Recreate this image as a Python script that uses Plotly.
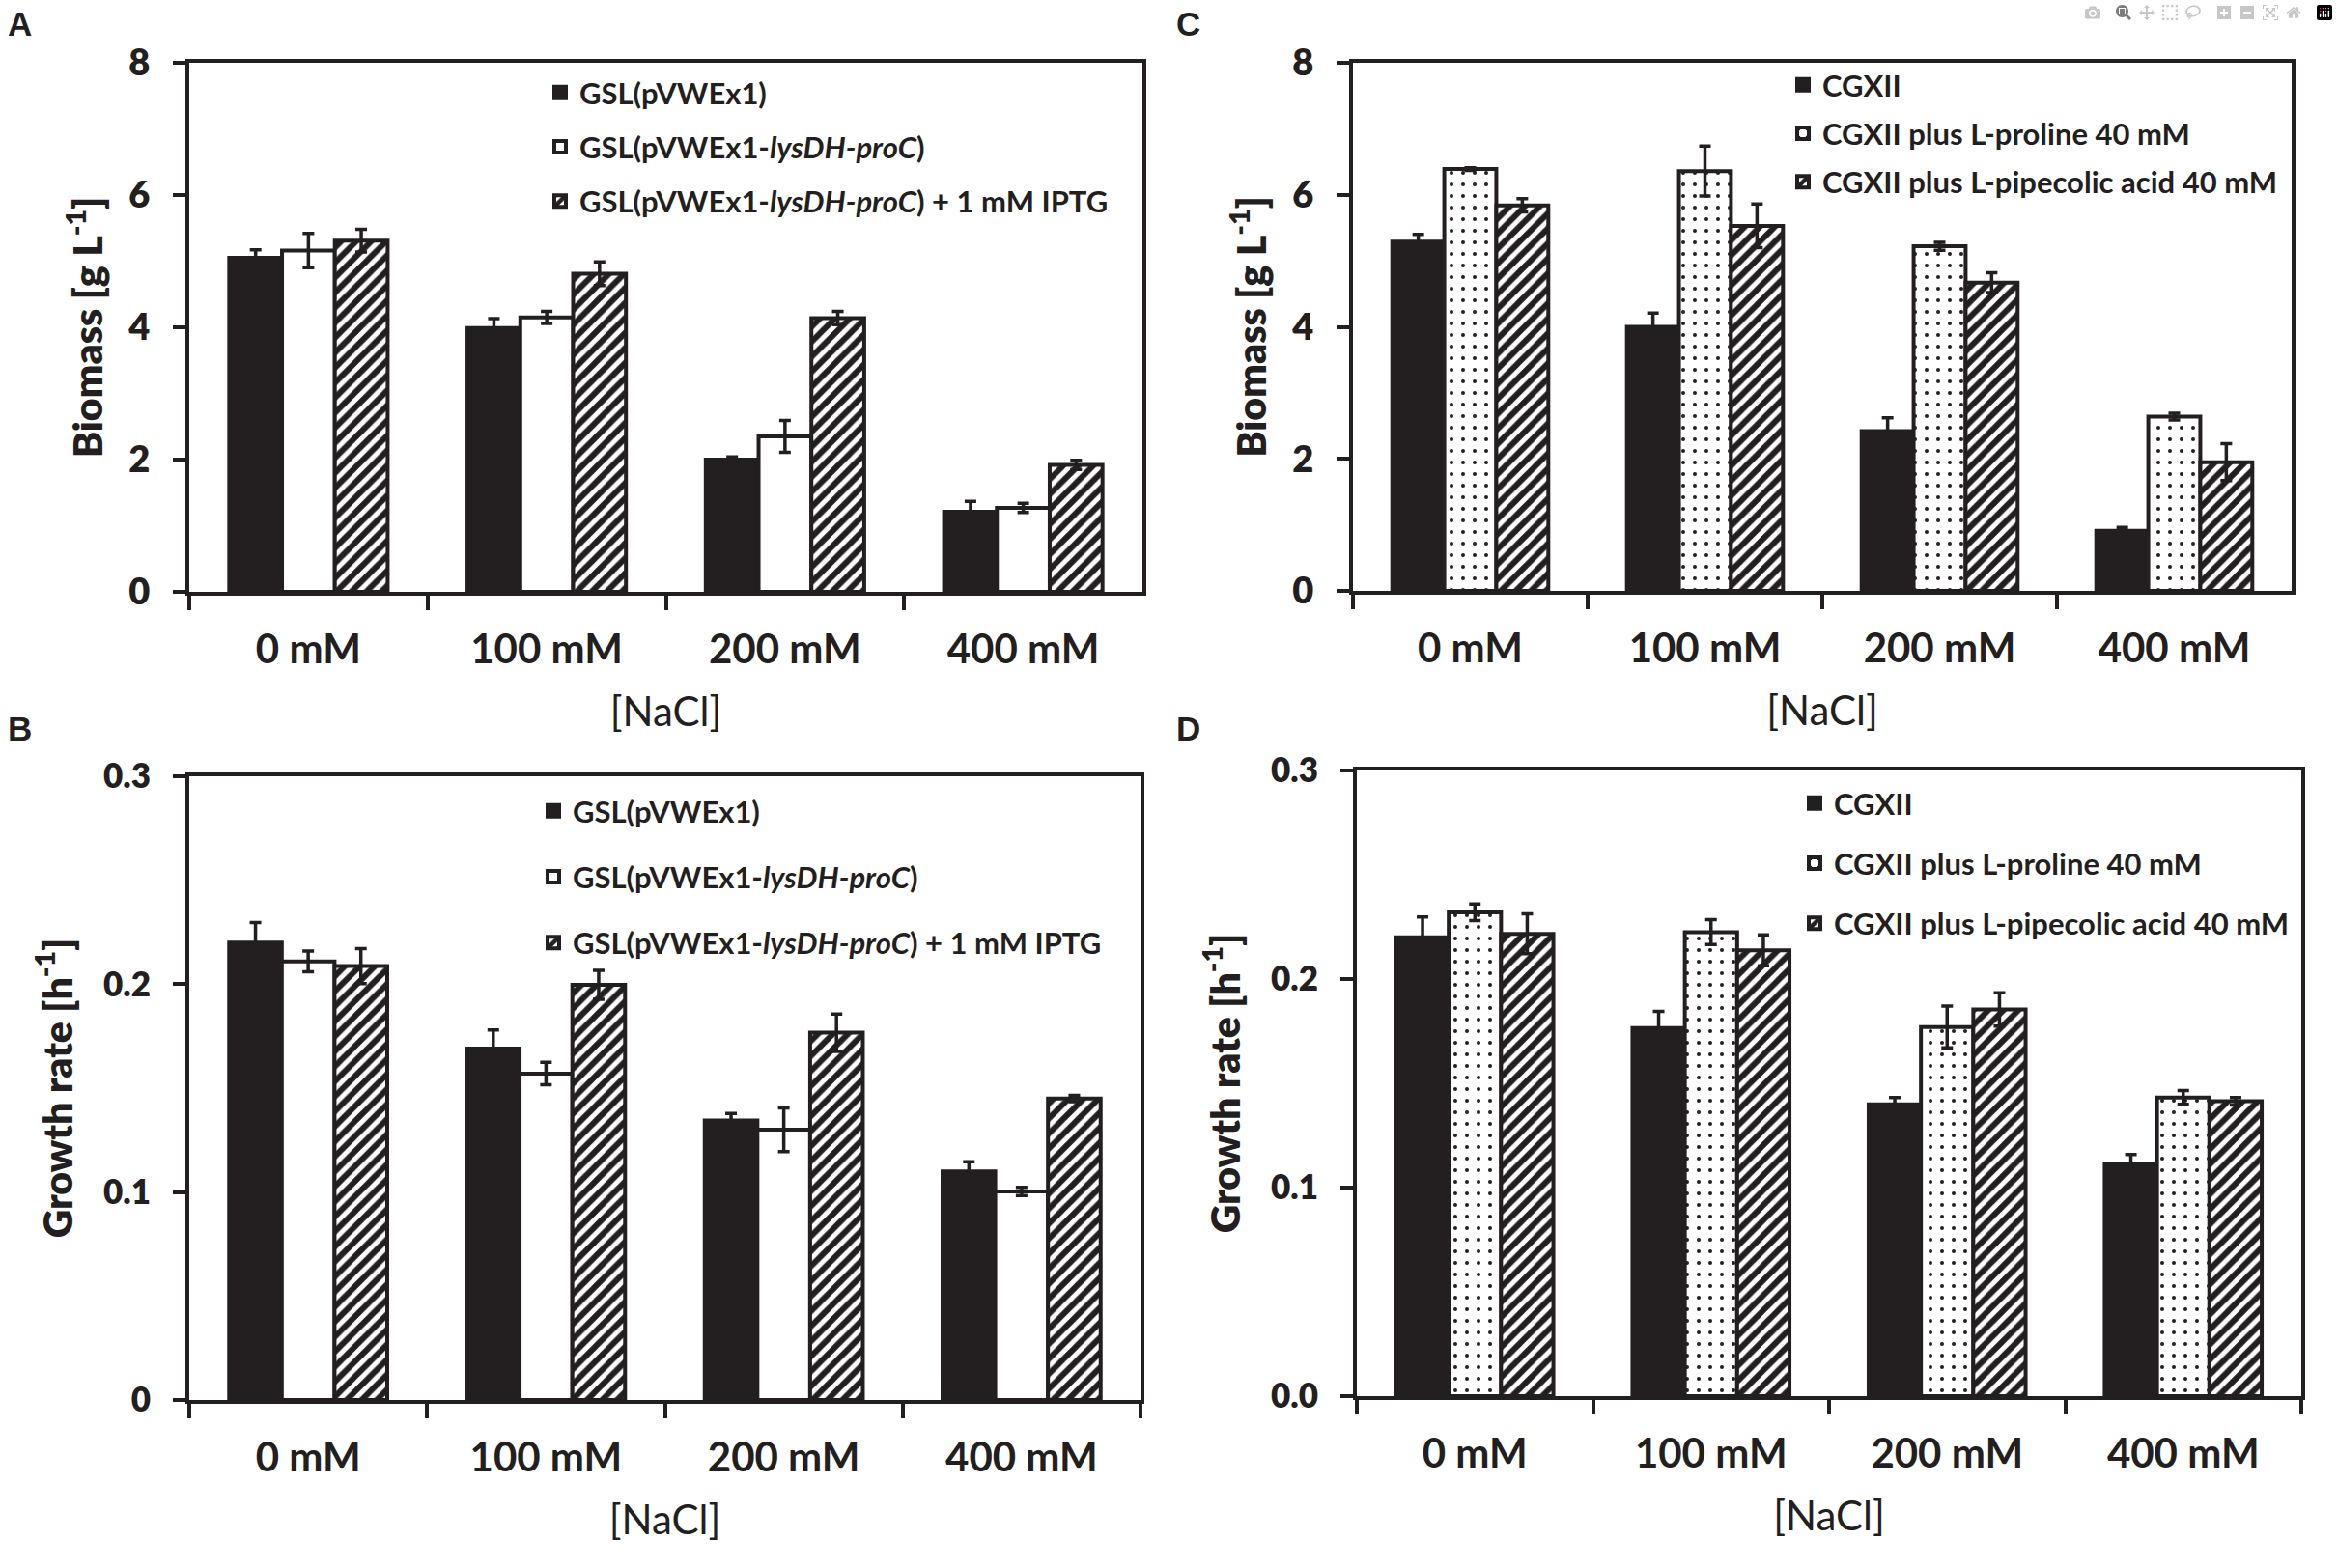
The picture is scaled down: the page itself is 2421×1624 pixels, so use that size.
import plotly.graph_objects as go

W, H = 2421, 1624

categories = ["0 mM", "100 mM", "200 mM", "400 mM"]

# ---- Panel A: biomass [g/L], GSL strains
a_names = ["GSL(pVWEx1)",
           "GSL(pVWEx1-<i>lysDH-proC</i>)",
           "GSL(pVWEx1-<i>lysDH-proC</i>) + 1 mM IPTG"]
a_empty = [5.05, 3.99, 2.00, 1.21]
a_empty_err = [0.12, 0.14, 0.04, 0.16]
a_construct = [5.16, 4.15, 2.35, 1.27]
a_construct_err = [0.26, 0.09, 0.24, 0.07]
a_iptg = [5.31, 4.81, 4.14, 1.92]
a_iptg_err = [0.17, 0.18, 0.10, 0.07]

# ---- Panel B: growth rate [1/h], GSL strains
b_empty = [0.220, 0.169, 0.1345, 0.110]
b_empty_err = [0.0097, 0.009, 0.0033, 0.0046]
b_construct = [0.211, 0.157, 0.130, 0.1003]
b_construct_err = [0.005, 0.0054, 0.0105, 0.002]
b_iptg = [0.2087, 0.1997, 0.1767, 0.145]
b_iptg_err = [0.0084, 0.007, 0.009, 0.0015]

# ---- Panel C: biomass [g/L], media
c_names = ["CGXII", "CGXII plus L-proline 40 mM", "CGXII plus L-pipecolic acid 40 mM"]
c_cgxii = [5.29, 4.00, 2.42, 0.91]
c_cgxii_err = [0.11, 0.21, 0.20, 0.05]
c_pro = [6.39, 6.36, 5.22, 2.64]
c_pro_err = [0.02, 0.38, 0.06, 0.05]
c_pip = [5.84, 5.53, 4.67, 1.95]
c_pip_err = [0.10, 0.33, 0.15, 0.28]

# ---- Panel D: growth rate [1/h], media
d_cgxii = [0.220, 0.1765, 0.1399, 0.1113]
d_cgxii_err = [0.0097, 0.008, 0.0033, 0.0046]
d_pro = [0.232, 0.2225, 0.177, 0.1432]
d_pro_err = [0.004, 0.006, 0.010, 0.0033]
d_pip = [0.2217, 0.2138, 0.1854, 0.1414]
d_pip_err = [0.0095, 0.0074, 0.008, 0.0018]

biomass_ticks = [0, 2, 4, 6, 8]
biomass_ticktext = ["0", "2", "4", "6", "8"]
rate_ticks = [0, 0.1, 0.2, 0.3]
rate_ticktext_b = ["0", "0.1", "0.2", "0.3"]
rate_ticktext_d = ["0.0", "0.1", "0.2", "0.3"]

INK = "#231f20"
FONT = "Lato, Carlito, 'Liberation Sans', sans-serif"


def px_x(x):
    return x / W


def px_y(y):
    return 1 - y / H


def bold(t):
    return f"<b>{t}</b>"


def style(kind):
    base = dict(marker_line_color=INK, marker_line_width=4)
    if kind == "solid":
        return dict(marker_color=INK, **base)
    if kind == "white":
        return dict(marker_color="white", **base)
    if kind == "hatch":
        return dict(marker_color="white",
                    marker_pattern=dict(shape="/", fgcolor=INK, bgcolor="white",
                                        size=11, solidity=0.55, fillmode="replace"),
                    **base)
    if kind == "dots":
        return dict(marker_color="white",
                    marker_pattern=dict(shape=".", fgcolor=INK, bgcolor="white",
                                        size=12, solidity=0.09, fillmode="replace"),
                    **base)


fig = go.Figure()

panels = [
    ([a_empty, a_construct, a_iptg], [a_empty_err, a_construct_err, a_iptg_err],
     a_names, ["solid", "white", "hatch"], "x", "y", "legend"),
    ([c_cgxii, c_pro, c_pip], [c_cgxii_err, c_pro_err, c_pip_err],
     c_names, ["solid", "dots", "hatch"], "x2", "y2", "legend2"),
    ([b_empty, b_construct, b_iptg], [b_empty_err, b_construct_err, b_iptg_err],
     a_names, ["solid", "white", "hatch"], "x3", "y3", "legend3"),
    ([d_cgxii, d_pro, d_pip], [d_cgxii_err, d_pro_err, d_pip_err],
     c_names, ["solid", "dots", "hatch"], "x4", "y4", "legend4"),
]

for pi, (vals, errs, names, kinds, xa, ya, lg) in enumerate(panels):
    for i in range(3):
        fig.add_trace(go.Bar(
            x=categories, y=vals[i], name=bold(names[i]),
            xaxis=xa, yaxis=ya, legend=lg, legendgroup=f"p{pi}s{i}",
            error_y=dict(type="data", array=errs[i], visible=True,
                         color=INK, thickness=3.5, width=6),
            **style(kinds[i])))

# plot-area rectangles in pixels: left, right, top, bottom
boxes = {
    "1": (196, 1183, 65, 613),
    "2": (1401, 2373, 65, 612),
    "3": (196, 1181, 804, 1450),
    "4": (1405, 2383, 798, 1446),
}

axis_common = dict(showline=True, linecolor=INK, linewidth=4, mirror=True,
                   showgrid=False, zeroline=False, ticks="outside",
                   tickcolor=INK, tickwidth=4, automargin=False)

layout = dict(width=W, height=H, margin=dict(l=0, r=0, t=0, b=0, autoexpand=False),
              paper_bgcolor="white", plot_bgcolor="white",
              barmode="group", bargap=0.335, bargroupgap=0,
              font=dict(family=FONT, color=INK), showlegend=True)

ytitles = {
    "1": "Biomass [g L<sup>-1</sup>]",
    "2": "Biomass [g L<sup>-1</sup>]",
    "3": "Growth rate [h<sup>-1</sup>]",
    "4": "Growth rate [h<sup>-1</sup>]",
}
ytickvals = {"1": biomass_ticks, "2": biomass_ticks, "3": rate_ticks, "4": rate_ticks}
yticktext = {"1": biomass_ticktext, "2": biomass_ticktext,
             "3": rate_ticktext_b, "4": rate_ticktext_d}
yranges = {"1": [0, 8], "2": [0, 8], "3": [0, 0.3], "4": [0, 0.3]}
ytickfont = {"1": 38, "2": 38, "3": 35, "4": 35}
ystandoff = {"1": 14, "2": 14, "3": 20, "4": 20}

for k, (l, r, t, b) in boxes.items():
    xn = "xaxis" if k == "1" else f"xaxis{k}"
    yn = "yaxis" if k == "1" else f"yaxis{k}"
    xa = "x" if k == "1" else f"x{k}"
    ya = "y" if k == "1" else f"y{k}"
    layout[xn] = dict(domain=[px_x(l), px_x(r)], anchor=ya,
                      tickson="boundaries", ticklen=15,
                      tickmode="array", tickvals=categories,
                      ticktext=[bold(c) for c in categories],
                      tickfont=dict(size=42, weight="bold", family=FONT, color=INK),
                      ticklabelstandoff=20,
                      title=dict(text="[NaCl]", standoff=28,
                                 font=dict(size=42, family=FONT, color=INK)),
                      **axis_common)
    layout[yn] = dict(domain=[px_y(b), px_y(t)], anchor=xa, range=yranges[k],
                      tickmode="array", tickvals=ytickvals[k],
                      ticktext=yticktext[k], ticklen=13,
                      tickfont=dict(size=ytickfont[k], weight=800, family=FONT, color=INK),
                      ticklabelstandoff=16,
                      title=dict(text=ytitles[k], standoff=ystandoff[k],
                                 font=dict(size=41, weight=800, family=FONT, color=INK)),
                      **axis_common)

legend_pos = {"legend": (560, 69, 13), "legend2": (1847, 61, 7),
              "legend3": (553, 813, 25), "legend4": (1859, 805, 19)}
for name, (lx, ly, gap) in legend_pos.items():
    layout[name] = dict(x=px_x(lx), y=px_y(ly), xanchor="left", yanchor="top",
                        bgcolor="rgba(0,0,0,0)", tracegroupgap=gap,
                        font=dict(size=31, weight="bold", family=FONT, color=INK))

fig.update_layout(**layout)

for letter, (lx, ly) in {"A": (6, 25), "C": (1216, 25),
                         "B": (6, 755), "D": (1216, 755)}.items():
    fig.add_annotation(text=letter, x=px_x(lx), y=px_y(ly), xref="paper", yref="paper",
                       xanchor="left", yanchor="middle", showarrow=False,
                       font=dict(size=35, weight="bold",
                                 family="'Liberation Sans', Arial, sans-serif", color=INK))

fig.write_html("out.html", post_script="document.body.style.margin='0';")
